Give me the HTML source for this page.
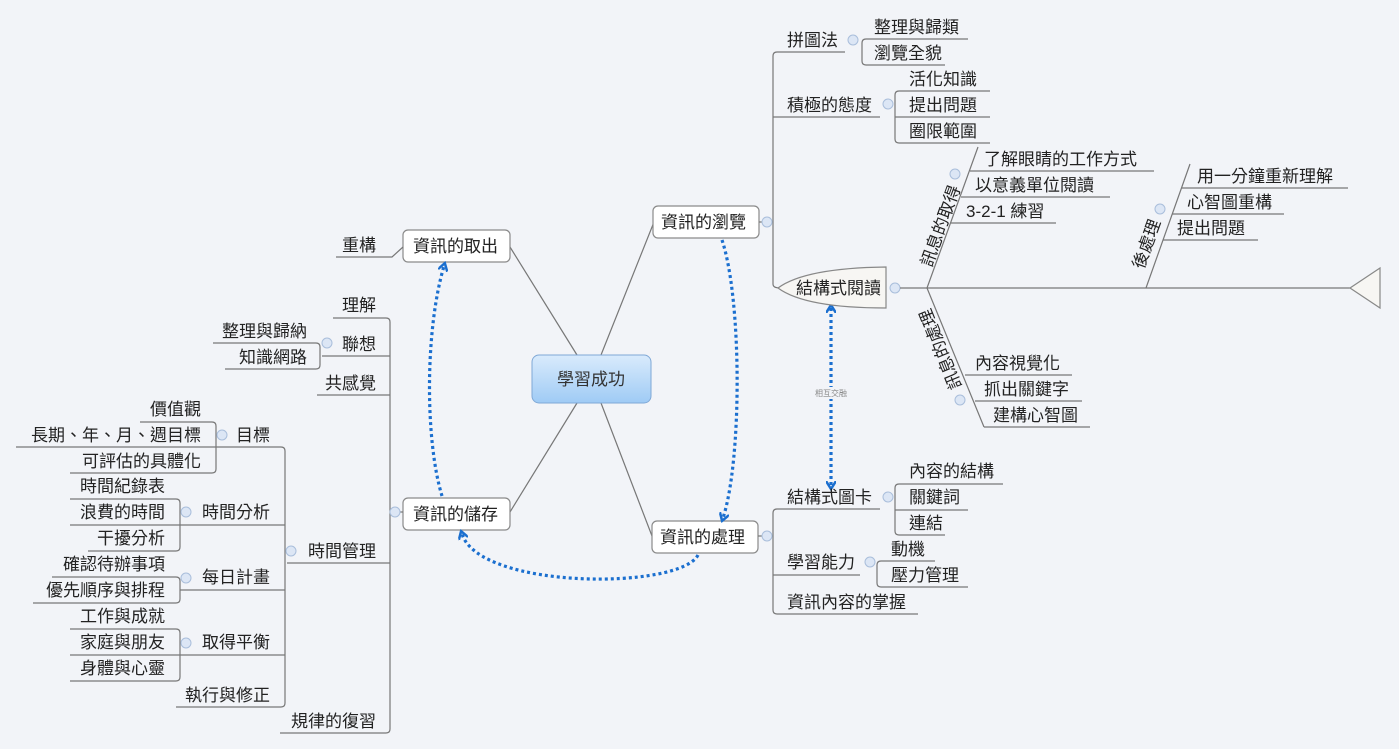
<!DOCTYPE html>
<html><head><meta charset="utf-8"><style>
html,body{margin:0;padding:0;background:#f2f4f8;}
svg{display:block;font-family:"Liberation Sans","Noto Sans CJK TC","Noto Sans CJK SC",sans-serif;}
text{font-size:17px;fill:#222;}
.l{stroke:#777;stroke-width:1.2;fill:none;}
.c{fill:#dce6f5;stroke:#a9bedb;stroke-width:1;}
.box{fill:#fff;stroke:#8a8a8a;stroke-width:1.2;}
.d{stroke:#1b6fcf;stroke-width:3.2;fill:none;stroke-dasharray:3 3;}
</style></head><body>
<svg width="1399" height="749" viewBox="0 0 1399 749" xmlns="http://www.w3.org/2000/svg">
<defs>
<linearGradient id="g" x1="0" y1="0" x2="0" y2="1"><stop offset="0" stop-color="#d9ebfc"/><stop offset="1" stop-color="#9fcbf5"/></linearGradient>
<marker id="ar" markerWidth="10" markerHeight="10" refX="5" refY="5" orient="auto-start-reverse" markerUnits="userSpaceOnUse"><path d="M0,0 L8,5 L0,10" fill="none" stroke="#1b6fcf" stroke-width="2.5"/></marker>
</defs>

<line class="l" x1="510" y1="247" x2="577" y2="355"/>
<line class="l" x1="654" y1="222" x2="601" y2="355"/>
<line class="l" x1="510" y1="512" x2="577" y2="403"/>
<line class="l" x1="652" y1="536" x2="601" y2="403"/>

<rect x="532" y="355" width="119" height="48" rx="7" fill="url(#g)" stroke="#7fa8d6"/>
<text x="591" y="385" text-anchor="middle" style="fill:#333">學習成功</text>

<rect class="box" x="403" y="230" width="107" height="32" rx="5"/><text x="413" y="252">資訊的取出</text>
<rect class="box" x="653" y="206" width="106" height="32" rx="5"/><text x="661" y="228">資訊的瀏覽</text>
<rect class="box" x="403" y="498" width="107" height="32" rx="5"/><text x="413" y="520">資訊的儲存</text>
<rect class="box" x="652" y="521" width="106" height="32" rx="5"/><text x="660" y="543">資訊的處理</text>

<path class="d" d="M722,240 C742,300 742,460 723,518" marker-end="url(#ar)"/>
<path class="d" d="M698,555 C680,590 480,590 462,534" marker-end="url(#ar)"/>
<path class="d" d="M442,496 C425,440 425,330 444,266" marker-end="url(#ar)"/>
<path class="d" d="M831,308 L831,486" marker-start="url(#ar)" marker-end="url(#ar)"/>
<rect x="810" y="387" width="42" height="12" fill="#f2f4f8"/>
<text x="831" y="396" text-anchor="middle" style="font-size:8px;fill:#888">相互交融</text>

<polyline class="l" points="336,257 392,257 403,247"/>
<text x="376" y="251" text-anchor="end">重構</text>

<path class="l" d="M333,318 H386 Q390,318 390,322 V729 Q390,733 386,733 H280"/>
<line class="l" x1="390" y1="512" x2="403" y2="512"/>
<circle class="c" cx="395" cy="512" r="5"/>
<line class="l" x1="322" y1="356" x2="390" y2="356"/>
<line class="l" x1="317" y1="395" x2="390" y2="395"/>
<line class="l" x1="287" y1="563" x2="390" y2="563"/>
<text x="376" y="311" text-anchor="end">理解</text>
<text x="376" y="350" text-anchor="end">聯想</text>
<text x="376" y="389" text-anchor="end">共感覺</text>
<text x="376" y="557" text-anchor="end">時間管理</text>
<text x="376" y="727" text-anchor="end">規律的復習</text>

<path class="l" d="M213,343 H316 Q320,343 320,347 V365 Q320,369 316,369 H225"/>
<circle class="c" cx="327" cy="343" r="5"/>
<text x="307" y="337" text-anchor="end">整理與歸納</text>
<text x="307" y="363" text-anchor="end">知識網路</text>

<path class="l" d="M16,447 H281 Q285,447 285,451 V703 Q285,707 281,707 H176"/>
<circle class="c" cx="291" cy="551" r="5"/>
<line class="l" x1="180" y1="525" x2="285" y2="525"/>
<line class="l" x1="180" y1="590" x2="285" y2="590"/>
<line class="l" x1="180" y1="655" x2="285" y2="655"/>
<text x="270" y="441" text-anchor="end">目標</text>
<text x="270" y="518" text-anchor="end">時間分析</text>
<text x="270" y="583" text-anchor="end">每日計畫</text>
<text x="270" y="648" text-anchor="end">取得平衡</text>
<text x="270" y="701" text-anchor="end">執行與修正</text>

<path class="l" d="M140,422 H212 Q216,422 216,426 V469 Q216,473 212,473 H70"/>
<circle class="c" cx="222" cy="435" r="5"/>
<text x="201" y="415" text-anchor="end">價值觀</text>
<text x="201" y="441" text-anchor="end">長期、年、月、週目標</text>
<text x="201" y="467" text-anchor="end">可評估的具體化</text>

<path class="l" d="M70,499 H176 Q180,499 180,503 V547 Q180,551 176,551 H88"/>
<line class="l" x1="70" y1="525" x2="180" y2="525"/>
<circle class="c" cx="186" cy="512" r="5"/>
<text x="165" y="492" text-anchor="end">時間紀錄表</text>
<text x="165" y="518" text-anchor="end">浪費的時間</text>
<text x="165" y="544" text-anchor="end">干擾分析</text>

<path class="l" d="M52,577 H176 Q180,577 180,581 V599 Q180,603 176,603 H33"/>
<circle class="c" cx="186" cy="578" r="5"/>
<text x="165" y="570" text-anchor="end">確認待辦事項</text>
<text x="165" y="596" text-anchor="end">優先順序與排程</text>

<path class="l" d="M70,629 H176 Q180,629 180,633 V677 Q180,681 176,681 H70"/>
<line class="l" x1="70" y1="655" x2="180" y2="655"/>
<circle class="c" cx="186" cy="643" r="5"/>
<text x="165" y="622" text-anchor="end">工作與成就</text>
<text x="165" y="648" text-anchor="end">家庭與朋友</text>
<text x="165" y="674" text-anchor="end">身體與心靈</text>

<path class="l" d="M845,52 H777 Q773,52 773,56 V284 Q773,288 780,288"/>
<line class="l" x1="759" y1="222" x2="773" y2="222"/>
<circle class="c" cx="767" cy="222" r="5"/>
<line class="l" x1="773" y1="117" x2="880" y2="117"/>
<text x="787" y="46">拼圖法</text>
<circle class="c" cx="853" cy="40" r="5"/>
<path class="l" d="M968,39 H866 Q862,39 862,43 V61 Q862,65 866,65 H945"/>
<text x="874" y="33">整理與歸類</text>
<text x="874" y="59">瀏覽全貌</text>
<text x="787" y="111">積極的態度</text>
<circle class="c" cx="888" cy="104" r="5"/>
<path class="l" d="M990,91 H899 Q895,91 895,95 V139 Q895,143 899,143 H990"/>
<line class="l" x1="895" y1="117" x2="990" y2="117"/>
<text x="909" y="85">活化知識</text>
<text x="909" y="111">提出問題</text>
<text x="909" y="137">圈限範圍</text>

<path d="M778,288 Q805,268 886,267 V308 Q805,308 778,288 Z" fill="#f7f6f3" stroke="#888" stroke-width="1.2"/>
<text x="796" y="294">結構式閱讀</text>
<circle class="c" cx="895" cy="288" r="5"/>
<line class="l" x1="900" y1="288" x2="1350" y2="288"/>
<path d="M1350,288 L1380,268 L1380,308 Z" fill="#f7f6f3" stroke="#888" stroke-width="1.2"/>
<line class="l" x1="927" y1="288" x2="978" y2="147"/>
<line class="l" x1="970" y1="171" x2="1154" y2="171"/>
<line class="l" x1="961" y1="197" x2="1110" y2="197"/>
<line class="l" x1="951" y1="223" x2="1056" y2="223"/>
<circle class="c" cx="955" cy="174" r="5"/>
<text x="984" y="165">了解眼睛的工作方式</text>
<text x="975" y="191">以意義單位閱讀</text>
<text x="966" y="217">3-2-1 練習</text>
<text transform="translate(946,228) rotate(-70)" text-anchor="middle">訊息的取得</text>
<line class="l" x1="1146" y1="288" x2="1190" y2="164"/>
<line class="l" x1="1182" y1="188" x2="1348" y2="188"/>
<line class="l" x1="1172" y1="214" x2="1284" y2="214"/>
<line class="l" x1="1163" y1="240" x2="1258" y2="240"/>
<circle class="c" cx="1160" cy="209" r="5"/>
<text x="1197" y="182">用一分鐘重新理解</text>
<text x="1187" y="208">心智圖重構</text>
<text x="1177" y="234">提出問題</text>
<text transform="translate(1152,246) rotate(-70)" text-anchor="middle">後處理</text>
<line class="l" x1="927" y1="288" x2="984" y2="427"/>
<line class="l" x1="965" y1="375" x2="1072" y2="375"/>
<line class="l" x1="975" y1="401" x2="1082" y2="401"/>
<line class="l" x1="984" y1="427" x2="1090" y2="427"/>
<circle class="c" cx="960" cy="400" r="5"/>
<text x="975" y="369">內容視覺化</text>
<text x="984" y="395">抓出關鍵字</text>
<text x="993" y="421">建構心智圖</text>
<text transform="translate(946,347) rotate(-112)" text-anchor="middle">訊息的處理</text>

<path class="l" d="M880,509 H777 Q773,509 773,513 V610 Q773,614 777,614 H918"/>
<line class="l" x1="758" y1="536" x2="773" y2="536"/>
<circle class="c" cx="767" cy="536" r="5"/>
<line class="l" x1="773" y1="575" x2="860" y2="575"/>
<text x="787" y="503">結構式圖卡</text>
<circle class="c" cx="888" cy="497" r="5"/>
<path class="l" d="M1003,484 H899 Q895,484 895,488 V531 Q895,535 899,535 H945"/>
<line class="l" x1="895" y1="510" x2="968" y2="510"/>
<text x="909" y="477">內容的結構</text>
<text x="909" y="503">關鍵詞</text>
<text x="909" y="529">連結</text>
<text x="787" y="568">學習能力</text>
<circle class="c" cx="870" cy="562" r="5"/>
<path class="l" d="M935,561 H881 Q877,561 877,565 V583 Q877,587 881,587 H968"/>
<text x="891" y="555">動機</text>
<text x="891" y="581">壓力管理</text>
<text x="787" y="608">資訊內容的掌握</text>
</svg>
</body></html>
